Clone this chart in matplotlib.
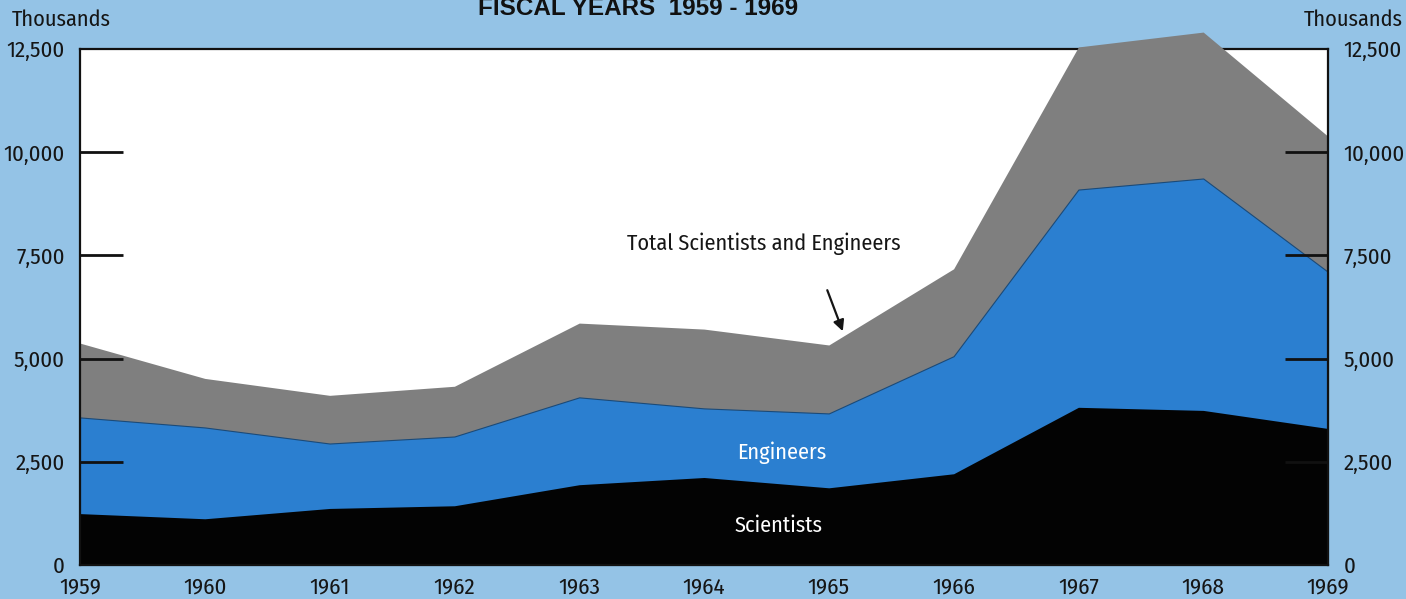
import matplotlib.pyplot as plt

years = [1959, 1960, 1961, 1962, 1963, 1964, 1965, 1966, 1967, 1968, 1969]
scientists = [1245, 1120, 1370, 1435, 1945, 2120, 1870, 2210, 3820, 3745, 3307]
engineers = [2330, 2212, 1573, 1678, 2116, 1674, 1802, 2848, 5275, 5618, 3794]
total = [5375, 4520, 4110, 4330, 5860, 5715, 5330, 7175, 12550, 12910, 10385]
y_ticks = [0, 2500, 5000, 7500, 10000, 12500]
y_labels = ['0', '2,500', '5,000', '7,500', '10,000', '12,500']

cond = ['Fira Sans Condensed', 'DejaVu Sans']
bg = '#94c3e6'
ink = '#151515'

fig = plt.figure(figsize=(14.06, 5.99), dpi=100, facecolor=bg)
ax = fig.add_axes([80 / 1406, 1 - 565 / 599, (1328 - 80) / 1406, (565 - 49) / 599])
ax.set_facecolor('white')

eng_top = [s + e for s, e in zip(scientists, engineers)]
ax.fill_between(years, 0, total, color='#7f7f7f', lw=0, clip_on=False, zorder=1)
ax.fill_between(years, 0, eng_top, facecolor='#2b7fd0', edgecolor='#1b4a78', lw=0.8,
                clip_on=False, zorder=1)
ax.fill_between(years, 0, scientists, color='#030303', lw=0, clip_on=False, zorder=1)

ax.set_xlim(1959, 1969)
ax.set_ylim(0, 12500)
ax.set_xticks(years)
ax.set_xticklabels([str(y) for y in years], fontsize=16.5, family=cond, color=ink)
ax.set_yticks(y_ticks)
ax.set_yticklabels(y_labels, fontsize=16.5, family=cond, color=ink)
for lab in ax.get_yticklabels(which='both'):
    lab.set_family(cond)
    lab.set_fontsize(16.5)
    lab.set_color(ink)
ax.tick_params(axis='x', length=0, pad=8)
ax.tick_params(axis='y', direction='in', length=31, width=2, left=True, right=True,
               labelleft=True, labelright=True, pad=11, color='#111111')
ticks = ax.yaxis.get_major_ticks()
for t in (ticks[0], ticks[-1]):
    t.tick1line.set_visible(False)
    t.tick2line.set_visible(False)
for s in ax.spines.values():
    s.set_linewidth(1.6)
    s.set_color('#111111')
ax.spines['top'].set_zorder(0.5)

ax.text(1964.62, 2730, 'Engineers', color='white', fontsize=16, family=cond,
        ha='center', va='center')
ax.text(1964.60, 940, 'Scientists', color='white', fontsize=16, family=cond,
        ha='center', va='center')
ax.text(1964.48, 7780, 'Total Scientists and Engineers', color=ink, fontsize=16,
        family=cond, ha='center', va='center')
ax.annotate('', xy=(1965.12, 5600), xytext=(1964.98, 6720),
            arrowprops=dict(arrowstyle='-|>', color=ink, lw=1.6, mutation_scale=16))

fig.text(12 / 1406, 1 - 20 / 599, 'Thousands', fontsize=16, family=cond,
         ha='left', va='center', color=ink)
fig.text(1403 / 1406, 1 - 20 / 599, 'Thousands', fontsize=16, family=cond,
         ha='right', va='center', color=ink)
fig.text(638 / 1406, 1 - 15 / 599, 'FISCAL YEARS  1959 - 1969', fontsize=17.5, fontweight='bold',
         family='Liberation Sans', ha='center', va='baseline', color='#111111')

fig.savefig('out.png', dpi=100, facecolor=bg)
